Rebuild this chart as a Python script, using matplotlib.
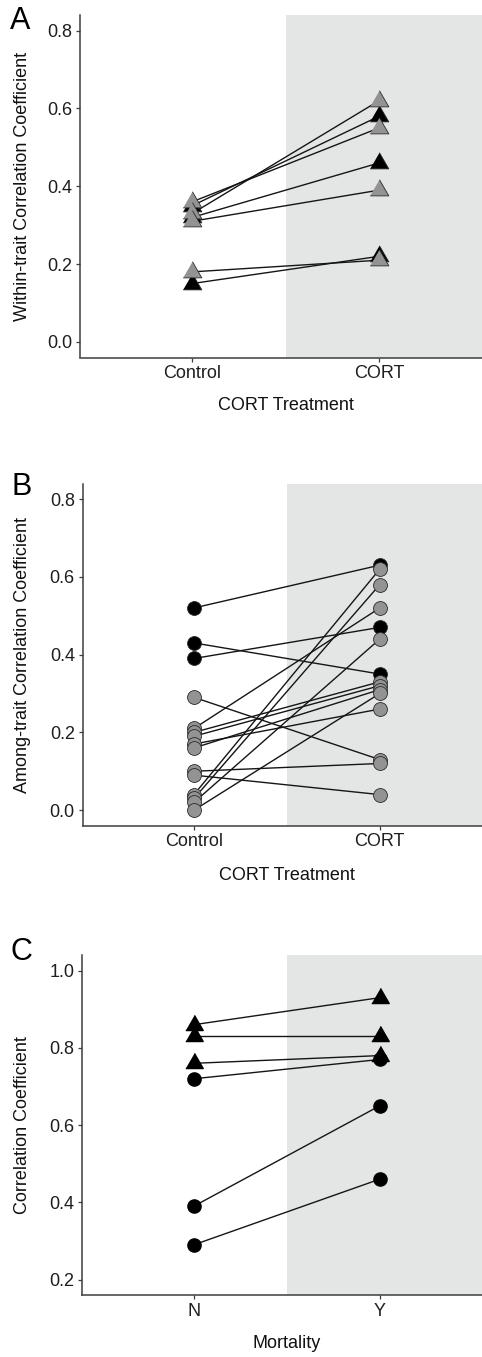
import matplotlib
matplotlib.use("Agg")
import matplotlib.pyplot as plt
from matplotlib.patches import Rectangle
import numpy as np

plt.rcParams['font.family'] = ['Liberation Sans', 'DejaVu Sans']

# ---------------- data ----------------
# Panel A: within-trait correlation (triangles)
a_groups = ["Control", "CORT"]
a_control = [0.36, 0.35, 0.33, 0.32, 0.31, 0.18, 0.15]
a_cort    = [0.55, 0.58, 0.62, 0.46, 0.39, 0.21, 0.22]
a_kind    = ["grey", "black", "grey", "black", "grey", "grey", "black"]

# Panel B: among-trait correlation (circles)
b_groups = ["Control", "CORT"]
b_control = [0.52, 0.43, 0.39, 0.29, 0.21, 0.20, 0.19, 0.17, 0.16, 0.10, 0.09, 0.04, 0.03, 0.02, 0.00]
b_cort    = [0.63, 0.35, 0.47, 0.13, 0.52, 0.33, 0.32, 0.26, 0.31, 0.12, 0.04, 0.62, 0.58, 0.44, 0.30]
b_kind    = ["black", "black", "black", "grey", "grey", "grey", "grey", "grey", "grey",
             "grey", "grey", "grey", "grey", "grey", "grey"]

# Panel C: correlation vs mortality
c_groups = ["N", "Y"]
c_no  = [0.86, 0.83, 0.76, 0.72, 0.39, 0.29]
c_yes = [0.93, 0.83, 0.78, 0.77, 0.65, 0.46]
c_shape = ["triangle", "triangle", "triangle", "circle", "circle", "circle"]

# ---------------- style ----------------
W, H = 482, 1357
fig = plt.figure(figsize=(W / 100, H / 100), dpi=100)

fill = {"grey": "#939393", "black": "#000000"}
tri = [(-1, -0.5774), (1, -0.5774), (0, 1.1547)]
axis_col = "#3d3d3d"
shade_col = "#e4e5e5"
XLIM = (0.4, 2.55)
FS = 13


def make_axes(left, top, bottom):
    return fig.add_axes([left / W, 1 - bottom / H, 1 - left / W, (bottom - top) / H])


def style(ax, ylim, yticks, xlabels, xtitle, ytitle):
    ax.set_xlim(*XLIM)
    ax.set_ylim(*ylim)
    ax.add_patch(Rectangle((1.5, ylim[0]), 2.0, ylim[1] - ylim[0],
                           facecolor=shade_col, edgecolor="none", zorder=0))
    for s in ["top", "right"]:
        ax.spines[s].set_visible(False)
    for s in ["left", "bottom"]:
        ax.spines[s].set_color(axis_col)
        ax.spines[s].set_linewidth(1.1)
        ax.spines[s].set_zorder(5)
    ax.set_xticks([1, 2])
    ax.set_xticklabels(xlabels)
    ax.set_yticks(yticks)
    ax.set_yticklabels([f"{t:.1f}" for t in yticks])
    ax.tick_params(axis="both", length=3, width=0.9, color=axis_col,
                   labelsize=FS, labelcolor="#1e1e1e", pad=2.5)
    ax.set_xlabel(xtitle, fontsize=FS, color="#111111")
    ax.set_ylabel(ytitle, fontsize=FS, color="#111111", va="center")
    ax.set_facecolor("none")


def place_labels(ax, top, bottom, left, xlab_y, ylab_x):
    hgt = bottom - top
    wid = W - left
    ax.xaxis.set_label_coords((1.5 - XLIM[0]) / (XLIM[1] - XLIM[0]), -(xlab_y - bottom) / hgt)
    ax.xaxis.label.set_va("center")
    ax.yaxis.set_label_coords(-(left - ylab_x) / wid, 0.5)


# ---------------- Panel A ----------------
axA = make_axes(80, 15, 357.5)
style(axA, (-0.04, 0.84), [0.0, 0.2, 0.4, 0.6, 0.8], a_groups,
      "CORT Treatment", "Within-trait Correlation Coefficient")
place_labels(axA, 15, 357.5, 80, 406, 23)
for c, t in zip(a_control, a_cort):
    axA.plot([1, 2], [c, t], color="#151515", lw=1.0, zorder=2)
for kind in ["black", "grey"]:
    for c, t, k in zip(a_control, a_cort, a_kind):
        if k == kind:
            axA.plot([1, 2], [c, t], linestyle="none", marker=tri, markersize=15.5,
                     markerfacecolor=fill[k], markeredgecolor="#2a2a2a",
                     markeredgewidth=0.6, zorder=3)

# ---------------- Panel B ----------------
axB = make_axes(82.5, 483.5, 825.7)
style(axB, (-0.04, 0.84), [0.0, 0.2, 0.4, 0.6, 0.8], b_groups,
      "CORT Treatment", "Among-trait Correlation Coefficient")
place_labels(axB, 483.5, 825.7, 82.5, 875, 23)
for c, t in zip(b_control, b_cort):
    axB.plot([1, 2], [c, t], color="#151515", lw=1.0, zorder=2)
for kind in ["black", "grey"]:
    for c, t, k in zip(b_control, b_cort, b_kind):
        if k == kind:
            axB.plot([1, 2], [c, t], linestyle="none", marker="o", markersize=10,
                     markerfacecolor=fill[k], markeredgecolor="#2a2a2a",
                     markeredgewidth=0.6, zorder=3)

# ---------------- Panel C ----------------
axC = make_axes(82.3, 955.2, 1295)
style(axC, (0.16, 1.04), [0.2, 0.4, 0.6, 0.8, 1.0], c_groups,
      "Mortality", "Correlation Coefficient")
place_labels(axC, 955.2, 1295, 82.3, 1343, 23)
for n, y in zip(c_no, c_yes):
    axC.plot([1, 2], [n, y], color="#151515", lw=1.0, zorder=2)
for n, y, s in zip(c_no, c_yes, c_shape):
    if s == "triangle":
        axC.plot([1, 2], [n, y], linestyle="none", marker=tri, markersize=14.5,
                 markerfacecolor="black", markeredgecolor="black", zorder=3)
    else:
        axC.plot([1, 2], [n, y], linestyle="none", marker="o", markersize=9.5,
                 markerfacecolor="black", markeredgecolor="black", zorder=3)

# ---------------- panel letters ----------------
for letter, x, y in [("A", 10, 29), ("B", 11.5, 495), ("C", 10, 960)]:
    fig.text(x / W, 1 - y / H, letter, fontsize=22, ha="left", va="baseline", color="black")

fig.savefig("out.png", dpi=100)
